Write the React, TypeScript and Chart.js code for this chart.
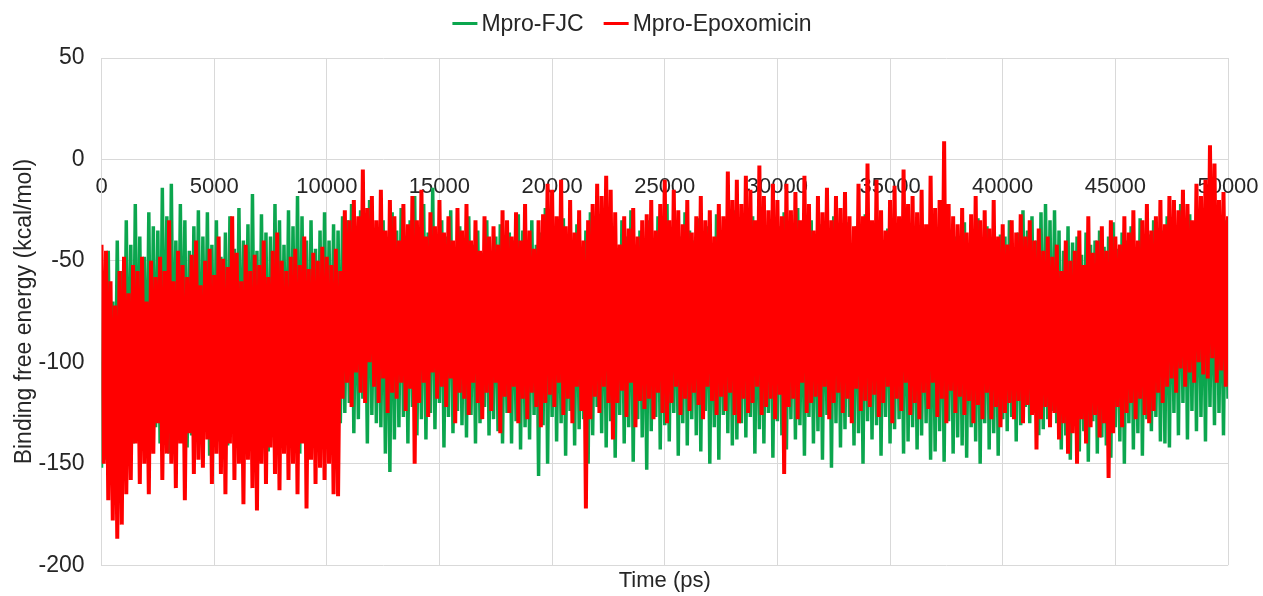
import React, { useEffect, useRef } from 'react';
import { Chart, registerables } from 'chart.js';

Chart.register(...registerables);

// Sampling interval of the digitised trajectories (ps)
const TIME_STEP_PS = 100;

// Mpro-FJC binding free energy (kcal/mol) (one row = 2500 ps)
const FJC_ENERGY = [
  -152, -60, -148, -45, -150, -70, -142, -40, -138, -55, -145, -30, -135, -42, -140, -22, -130, -38, -143, -48, -136, -26, -141, -33, -132,
  -35, -140, -14, -128, -28, -145, -12, -132, -40, -138, -22, -125, -30, -142, -45, -136, -33, -130, -25, -140, -38, -127, -26, -146, -42,
  -133, -30, -139, -48, -124, -36, -141, -28, -130, -44, -137, -24, -128, -40, -135, -32, -142, -17, -126, -45, -138, -27, -130, -36, -144,
  -38, -129, -22, -140, -30, -134, -42, -127, -25, -139, -33, -131, -18, -145, -28, -125, -40, -136, -30, -128, -44, -140, -35, -132, -26,
  -135, -40, -128, -32, -142, -35, -130, -28, -125, -30, -120, -22, -135, -40, -128, -25, -118, -45, -140, -20, -126, -35, -130, -38, -132,
  -30, -145, -42, -154, -26, -138, -35, -132, -24, -127, -40, -140, -30, -122, -18, -136, -44, -128, -22, -138, -36, -125, -14, -133, -45,
  -120, -30, -142, -38, -127, -25, -135, -48, -124, -33, -131, -40, -137, -28, -126, -42, -140, -35, -130, -46, -122, -30, -136, -50, -128,
  -38, -134, -32, -140, -44, -125, -36, -140, -40, -129, -27, -143, -35, -132, -48, -138, -30, -126, -42, -156, -36, -131, -24, -150, -38,
  -127, -33, -139, -45, -130, -29, -146, -37, -124, -40, -141, -32, -133, -50, -128, -35, -150, -26, -136, -43, -122, -38, -135, -28, -142,
  -40, -129, -33, -147, -45, -126, -30, -140, -38, -132, -25, -149, -42, -128, -35, -137, -47, -153, -30, -134, -41, -127, -28, -143, -36,
  -131, -22, -139, -44, -125, -32, -146, -38, -130, -26, -141, -35, -128, -40, -136, -29, -144, -37, -124, -33, -150, -45, -132, -27, -148,
  -36, -126, -42, -135, -30, -141, -25, -138, -44, -130, -31, -137, -40, -127, -28, -145, -46, -133, -35, -140, -39, -125, -30, -147, -42,
  -129, -33, -136, -26, -143, -41, -128, -36, -138, -24, -131, -43, -146, -38, -127, -30, -140, -45, -134, -32, -148, -40, -126, -35, -152,
  -28, -130, -37, -142, -43, -133, -31, -127, -46, -141, -33, -135, -39, -150, -27, -129, -44, -138, -36, -131, -30, -146, -42, -127, -34,
  -140, -29, -133, -45, -128, -40, -145, -26, -139, -35, -132, -38, -143, -33, -136, -47, -130, -41, -148, -38, -144, -42, -134, -36, -149,
  -40, -129, -35, -145, -38, -137, -43, -141, -31, -147, -44, -132, -36, -139, -29, -150, -40, -130, -33, -143, -46, -135, -41, -146, -37,
  -128, -38, -134, -30, -127, -44, -139, -36, -131, -25, -122, -35, -130, -28, -125, -40, -136, -26, -133, -22, -128, -30, -124, -25, -130,
  -35, -143, -45, -136, -33, -148, -41, -130, -38, -144, -47, -134, -36, -149, -42, -129, -40, -145, -35, -137, -43, -141, -38, -147, -31,
  -132, -44, -139, -36, -150, -40, -130, -33, -143, -46, -135, -29, -146, -41, -128, -37, -134, -30, -127, -38, -139, -35, -140, -28, -142,
  -30, -125, -40, -136, -22, -120, -33, -138, -27, -124, -31, -134, -25, -127, -38, -139, -28, -122, -35, -131, -26, -125, -40, -136, -30,
  -118,
];

// Mpro-Epoxomicin binding free energy (kcal/mol) (one row = 2500 ps)
const EPOX_ENERGY = [
  -42, -150, -45, -168, -60, -178, -72, -187, -55, -180, -48, -165, -66, -158, -52, -140, -55, -160, -48, -150, -70, -165, -50, -145, -58,
  -130, -48, -158, -55, -145, -30, -150, -60, -162, -45, -140, -52, -168, -58, -135, -47, -155, -40, -148, -62, -152, -50, -138, -44, -160,
  -57, -145, -38, -155, -49, -165, -53, -140, -28, -158, -46, -150, -60, -170, -42, -148, -55, -162, -47, -173, -52, -150, -40, -160, -58,
  -142, -45, -155, -36, -163, -50, -145, -55, -158, -48, -150, -44, -165, -52, -140, -38, -172, -54, -148, -46, -160, -50, -152, -43, -158,
  -48, -150, -52, -165, -44, -166, -55, -118, -25, -110, -30, -122, -20, -105, -28, -115, -5, -120, -24, -100, -18, -112, -30, -120, -15,
  -108, -35, -125, -20, -115, -28, -118, -40, -110, -22, -124, -32, -113, -18, -150, -30, -120, -15, -110, -38, -127, -26, -105, -33, -118,
  -20, -112, -36, -122, -28, -108, -40, -130, -24, -115, -35, -118, -22, -126, -40, -110, -30, -120, -45, -128, -28, -115, -38, -124, -33,
  -110, -42, -135, -25, -117, -30, -125, -38, -112, -26, -130, -40, -118, -22, -128, -35, -115, -44, -122, -30, -132, -27, -120, -12, -116,
  -15, -122, -28, -110, -10, -126, -33, -118, -20, -130, -36, -112, -25, -124, -40, -172, -30, -128, -22, -117, -12, -125, -18, -112, -8,
  -120, -15, -138, -26, -120, -42, -114, -28, -127, -34, -110, -24, -132, -38, -119, -30, -123, -27, -118, -20, -128, -35, -115, -22, -125,
  -10, -130, -30, -120, -15, -112, -25, -126, -32, -118, -20, -124, -36, -115, -28, -121, -18, -128, -30, -112, -25, -119, -38, -126, -22,
  -117, -28, -124, -6, -115, -20, -126, -10, -130, -22, -118, -8, -125, -15, -120, -30, -112, -3, -126, -18, -122, -25, -118, -12, -128,
  -20, -116, -28, -155, -12, -122, -25, -118, -16, -128, -30, -110, -8, -125, -22, -120, -35, -117, -18, -127, -26, -112, -14, -128, -30,
  -120, -18, -115, -24, -125, -16, -118, -28, -130, -33, -113, -12, -124, -28, -119, -2, -122, -30, -116, -10, -127, -25, -120, -35, -112,
  -20, -130, -13, -118, -28, -124, -5, -110, -22, -126, -18, -120, -26, -128, -15, -115, -32, -123, -8, -110, -24, -127, -20, -118, 9,
  -130, -22, -114, -28, -125, -32, -117, -24, -126, -36, -119, -27, -130, -18, -121, -30, -128, -25, -115, -34, -128, -20, -122, -38, -132,
  -32, -125, -42, -120, -30, -128, -36, -119, -27, -130, -38, -121, -30, -126, -40, -143, -34, -128, -45, -122, -38, -132, -48, -125, -42,
  -138, -55, -130, -40, -145, -50, -135, -45, -150, -35, -128, -52, -140, -28, -132, -46, -126, -40, -137, -33, -130, -45, -157, -30, -135,
  -38, -122, -42, -132, -28, -125, -36, -120, -25, -128, -40, -118, -30, -126, -22, -130, -35, -124, -28, -115, -20, -120, -32, -112, -18,
  -108, -20, -115, -25, -103, -15, -112, -22, -105, -30, -110, -12, -100, -18, -106, -10, -108, 7, -98, -2, -110, -20, -104, -16, -112,
  -28,
];

const TIMES_PS = FJC_ENERGY.map((_, i) => i * TIME_STEP_PS);

const SERIES_NAMES = ['Mpro-FJC', 'Mpro-Epoxomicin'];
const SERIES_COLORS = ['#0BA64E', '#FF0000'];

const X_MIN = 0;
const X_MAX = 50000;
const X_STEP = 5000;
const Y_MIN = -200;
const Y_MAX = 50;
const Y_STEP = 50;

const X_TITLE = 'Time (ps)';
const Y_TITLE = 'Binding free energy (kcal/mol)';

const FONT_FAMILY = '"Liberation Sans", Arial, Helvetica, sans-serif';
const TEXT_COLOR = '#262626';
const GRID_COLOR = '#d9d9d9';

// Legend drawn as line + label pairs, centred above the plot
const legendPlugin = {
  id: 'lineLegend',
  afterDraw(chart: any) {
    const ctx = chart.ctx as CanvasRenderingContext2D;
    ctx.save();
    ctx.font = `23px ${FONT_FAMILY}`;
    const items = chart.data.datasets.map((ds: any) => ({ text: ds.label as string, color: ds.borderColor as string }));
    const lineW = 25;
    const gap = 4;
    const itemGap = 20;
    const widths = items.map((it: any) => ctx.measureText(it.text).width);
    const total = widths.reduce((a: number, w: number) => a + lineW + gap + w, 0) + itemGap * (items.length - 1);
    let x = 632 - total / 2;
    const y = 23.5;
    items.forEach((it: any, i: number) => {
      ctx.fillStyle = it.color;
      ctx.fillRect(x, y - 1.5, lineW, 3);
      x += lineW + gap;
      ctx.fillStyle = TEXT_COLOR;
      ctx.textBaseline = 'middle';
      ctx.textAlign = 'left';
      ctx.fillText(it.text, x, y + 1);
      x += widths[i] + itemGap;
    });
    ctx.restore();
  },
};

const noSidePadding = (scale: any) => {
  scale.paddingLeft = 0;
  scale.paddingRight = 0;
};

export default function App() {
  const canvasRef = useRef<HTMLCanvasElement | null>(null);

  useEffect(() => {
    document.body.style.margin = '0';
    const canvas = canvasRef.current;
    if (!canvas) return;
    const font = { family: FONT_FAMILY, size: 22 };
    const fontY = { family: FONT_FAMILY, size: 23 };
    const chart = new Chart(canvas, {
      type: 'line',
      data: {
        labels: TIMES_PS,
        datasets: [
          {
            label: SERIES_NAMES[0],
            data: FJC_ENERGY,
            borderColor: SERIES_COLORS[0],
            backgroundColor: SERIES_COLORS[0],
            borderWidth: 3.5,
            pointRadius: 0,
            tension: 0,
            order: 1,
          },
          {
            label: SERIES_NAMES[1],
            data: EPOX_ENERGY,
            borderColor: SERIES_COLORS[1],
            backgroundColor: SERIES_COLORS[1],
            borderWidth: 4,
            pointRadius: 0,
            tension: 0,
            order: 0,
          },
        ],
      },
      options: {
        responsive: false,
        animation: false,
        events: [],
        layout: { padding: { left: 0, right: 35, top: 58, bottom: 0 } },
        plugins: {
          legend: { display: false },
          tooltip: { enabled: false },
        },
        scales: {
          x: {
            type: 'linear',
            min: X_MIN,
            max: X_MAX,
            position: { y: 0 } as any,
            grid: { color: GRID_COLOR, drawTicks: false, lineWidth: 1 },
            border: { display: false },
            ticks: {
              stepSize: X_STEP,
              padding: 14,
              font,
              color: TEXT_COLOR,
              maxRotation: 0,
              autoSkip: false,
              callback: (v: any) => String(v),
            },
            afterFit: noSidePadding,
          },
          x2: {
            type: 'linear',
            position: 'bottom',
            grid: { display: false, drawTicks: false },
            border: { display: false },
            ticks: { display: false },
            title: {
              display: true,
              text: X_TITLE,
              font,
              color: TEXT_COLOR,
              padding: { top: 3, bottom: 1 },
            },
            afterFit: noSidePadding,
          },
          y: {
            type: 'linear',
            min: Y_MIN,
            max: Y_MAX,
            grid: { color: GRID_COLOR, drawTicks: false, lineWidth: 1 },
            border: { display: true, color: GRID_COLOR },
            ticks: {
              stepSize: Y_STEP,
              padding: 17,
              font: fontY,
              color: TEXT_COLOR,
              callback: (v: any) => String(v),
            },
            title: {
              display: true,
              text: Y_TITLE,
              font: fontY,
              color: TEXT_COLOR,
              padding: { top: 11, bottom: 0 },
            },
            afterFit: (scale: any) => {
              scale.width = 101.5;
            },
          },
        },
      } as any,
      plugins: [legendPlugin],
    });
    return () => chart.destroy();
  }, []);

  return (
    <div style={{ width: 1263, height: 596 }}>
      <canvas ref={canvasRef} width={1263} height={596} style={{ display: 'block' }} />
    </div>
  );
}
